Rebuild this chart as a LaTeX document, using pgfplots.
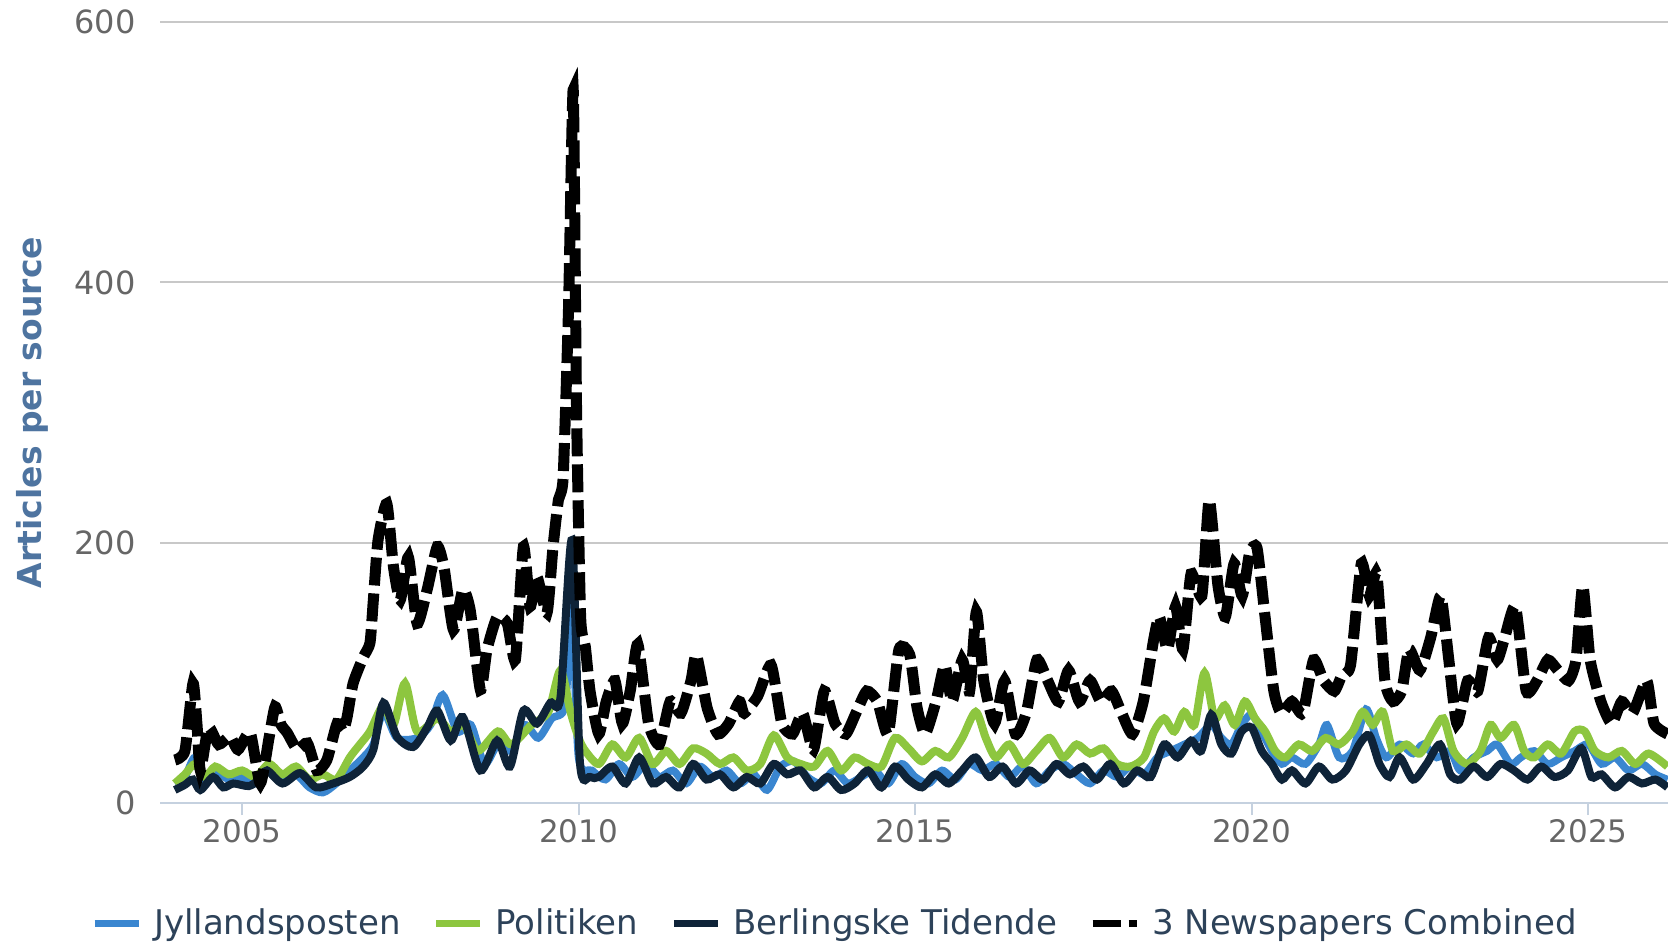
\documentclass[border=0pt]{standalone}
\usepackage{fontspec}
\setmainfont{DejaVu Sans}
\usepackage{pgfplots}
\usepackage{pgfplotstable}
\pgfplotsset{compat=1.18}

\definecolor{jp}{HTML}{3A86D0}
\definecolor{pol}{HTML}{8DC63F}
\definecolor{ber}{HTML}{0E2338}
\definecolor{axisline}{HTML}{C5D1DF}
\definecolor{gridc}{HTML}{C8C8C8}
\definecolor{tickc}{HTML}{666666}
\definecolor{ylab}{HTML}{4E74A0}
\definecolor{legc}{HTML}{2D4259}

% combined (3 newspapers)
\pgfplotstableread{
x y
2004.00 33
2004.15 40
2004.27 92
2004.33 60
2004.38 25
2004.50 58
2004.65 45
2004.82 51
2004.94 41
2005.12 54
2005.27 15
2005.40 50
2005.49 74
2005.58 60
2005.67 54
2005.82 41
2005.97 46
2006.11 25
2006.26 33
2006.41 61
2006.50 55
2006.56 66
2006.65 92
2006.80 112
2006.90 123
2006.95 156
2007.02 202
2007.15 230
2007.25 181
2007.35 156
2007.47 189
2007.60 138
2007.75 164
2007.90 197
2008.00 181
2008.14 133
2008.28 164
2008.39 148
2008.54 87
2008.64 118
2008.79 143
2008.94 138
2009.06 110
2009.18 197
2009.28 151
2009.38 174
2009.53 146
2009.62 197
2009.70 233
2009.77 250
2009.85 380
2009.92 548
2009.97 300
2010.03 143
2010.10 120
2010.17 86
2010.30 53
2010.41 78
2010.54 94
2010.65 61
2010.77 87
2010.88 122
2011.04 61
2011.20 45
2011.36 78
2011.52 69
2011.67 94
2011.75 114
2011.91 73
2012.07 53
2012.23 61
2012.39 78
2012.46 69
2012.66 82
2012.86 106
2013.02 61
2013.18 53
2013.33 69
2013.49 41
2013.65 86
2013.81 61
2013.97 53
2014.12 69
2014.28 86
2014.44 78
2014.60 53
2014.76 118
2014.92 114
2015.03 73
2015.15 53
2015.31 78
2015.44 106
2015.55 78
2015.70 110
2015.81 86
2015.91 147
2016.02 94
2016.18 61
2016.33 94
2016.49 53
2016.65 69
2016.81 110
2016.97 94
2017.13 78
2017.28 102
2017.44 78
2017.60 94
2017.76 78
2017.92 86
2018.07 69
2018.23 53
2018.39 78
2018.55 127
2018.63 143
2018.75 118
2018.87 151
2018.98 118
2019.10 176
2019.26 159
2019.37 233
2019.50 167
2019.61 143
2019.74 184
2019.86 159
2019.97 192
2020.08 196
2020.20 143
2020.33 86
2020.44 69
2020.60 78
2020.76 69
2020.92 110
2021.07 94
2021.23 86
2021.34 98
2021.47 106
2021.63 184
2021.75 159
2021.86 176
2021.98 94
2022.10 78
2022.23 86
2022.34 118
2022.50 102
2022.66 127
2022.81 159
2022.93 110
2023.05 61
2023.21 94
2023.36 86
2023.52 127
2023.65 110
2023.76 127
2023.92 151
2024.08 86
2024.24 94
2024.40 110
2024.55 102
2024.71 94
2024.82 110
2024.92 167
2025.03 110
2025.19 78
2025.35 61
2025.50 78
2025.66 69
2025.87 94
2025.98 61
2026.18 53
}\combined

% Berlingske Tidende
\pgfplotstableread{
x y
2004.00 10
2004.15 14
2004.27 18
2004.38 10
2004.57 20
2004.72 12
2004.87 15
2005.10 13
2005.25 18
2005.37 25
2005.60 15
2005.86 23
2006.10 12
2006.35 15
2006.60 20
2006.80 28
2006.95 41
2007.10 77
2007.30 51
2007.54 43
2007.75 58
2007.90 71
2008.10 48
2008.28 66
2008.54 25
2008.79 48
2008.98 28
2009.18 71
2009.38 61
2009.58 77
2009.73 81
2009.90 202
2010.02 31
2010.17 20
2010.30 20
2010.50 28
2010.70 15
2010.90 35
2011.10 15
2011.30 20
2011.50 12
2011.70 30
2011.90 18
2012.10 22
2012.30 12
2012.50 20
2012.70 15
2012.90 30
2013.10 22
2013.30 25
2013.50 12
2013.70 20
2013.90 10
2014.10 15
2014.30 25
2014.50 12
2014.70 28
2014.90 18
2015.10 12
2015.30 22
2015.50 15
2015.70 25
2015.90 35
2016.10 20
2016.30 28
2016.50 15
2016.70 25
2016.90 18
2017.10 30
2017.30 22
2017.50 28
2017.70 18
2017.90 30
2018.10 15
2018.30 25
2018.50 20
2018.70 45
2018.90 35
2019.10 48
2019.25 40
2019.40 68
2019.55 45
2019.70 38
2019.85 55
2020.00 58
2020.15 40
2020.30 30
2020.45 18
2020.60 25
2020.80 15
2021.00 28
2021.20 18
2021.40 25
2021.60 45
2021.75 52
2021.90 30
2022.05 20
2022.20 35
2022.40 18
2022.60 30
2022.80 45
2022.95 22
2023.10 18
2023.30 28
2023.50 20
2023.70 30
2023.90 25
2024.10 18
2024.30 28
2024.50 20
2024.70 25
2024.90 42
2025.05 20
2025.20 22
2025.40 12
2025.60 20
2025.80 15
2026.00 18
2026.18 12
}\berlingske

% Politiken
\pgfplotstableread{
x y
2004.00 15
2004.15 22
2004.30 30
2004.45 20
2004.60 28
2004.80 22
2005.00 25
2005.20 20
2005.40 30
2005.60 22
2005.80 28
2006.00 18
2006.20 22
2006.40 18
2006.60 35
2006.75 45
2006.90 55
2007.10 75
2007.25 60
2007.42 92
2007.60 55
2007.90 65
2008.10 55
2008.30 60
2008.50 40
2008.80 55
2009.00 45
2009.30 60
2009.55 70
2009.73 102
2009.88 70
2010.00 50
2010.10 40
2010.30 30
2010.50 45
2010.70 35
2010.90 50
2011.10 30
2011.30 40
2011.50 30
2011.70 42
2011.90 38
2012.10 30
2012.30 35
2012.50 25
2012.70 30
2012.90 52
2013.10 35
2013.30 30
2013.50 28
2013.70 40
2013.90 25
2014.10 35
2014.30 30
2014.50 28
2014.70 50
2014.90 42
2015.10 32
2015.30 40
2015.50 35
2015.70 50
2015.90 70
2016.05 50
2016.20 35
2016.40 45
2016.60 30
2016.80 40
2017.00 50
2017.20 35
2017.40 45
2017.60 38
2017.80 42
2018.00 30
2018.20 28
2018.40 35
2018.55 55
2018.70 65
2018.85 55
2019.00 70
2019.15 60
2019.30 100
2019.45 65
2019.60 75
2019.75 60
2019.90 78
2020.05 65
2020.20 55
2020.35 40
2020.50 35
2020.70 45
2020.90 40
2021.10 50
2021.30 45
2021.50 55
2021.65 70
2021.80 60
2021.95 70
2022.10 40
2022.30 45
2022.50 38
2022.70 55
2022.85 65
2023.00 40
2023.20 30
2023.40 40
2023.55 60
2023.70 50
2023.90 60
2024.05 40
2024.20 35
2024.40 45
2024.60 38
2024.80 55
2024.95 55
2025.10 40
2025.30 35
2025.50 40
2025.70 30
2025.90 38
2026.18 28
}\politiken

% Jyllandsposten
\pgfplotstableread{
x y
2004.00 15
2004.15 20
2004.30 35
2004.45 15
2004.60 25
2004.80 18
2005.00 20
2005.20 15
2005.40 25
2005.60 20
2005.80 22
2006.00 12
2006.20 8
2006.40 15
2006.60 25
2006.80 35
2006.95 45
2007.10 70
2007.30 50
2007.60 50
2007.80 60
2007.98 83
2008.20 55
2008.40 60
2008.60 30
2008.80 45
2009.00 40
2009.20 60
2009.40 50
2009.60 65
2009.80 75
2009.90 150
2010.00 35
2010.20 25
2010.40 18
2010.60 30
2010.80 20
2011.00 30
2011.20 20
2011.40 25
2011.60 15
2011.80 28
2012.00 20
2012.20 25
2012.40 15
2012.60 22
2012.80 10
2013.00 28
2013.20 32
2013.40 20
2013.60 15
2013.80 25
2014.00 15
2014.20 20
2014.40 25
2014.60 15
2014.80 30
2015.00 20
2015.20 15
2015.40 25
2015.60 18
2015.80 30
2016.00 25
2016.20 30
2016.40 20
2016.60 28
2016.80 15
2017.00 25
2017.20 30
2017.40 22
2017.60 15
2017.80 25
2018.00 20
2018.20 28
2018.40 22
2018.60 35
2018.80 40
2019.00 45
2019.20 50
2019.40 60
2019.55 50
2019.70 45
2019.85 60
2020.00 68
2020.15 55
2020.30 40
2020.45 30
2020.60 35
2020.80 30
2021.00 45
2021.12 60
2021.30 35
2021.50 40
2021.70 72
2021.85 50
2022.00 35
2022.20 45
2022.40 38
2022.55 45
2022.75 35
2022.95 40
2023.10 25
2023.30 35
2023.50 40
2023.65 45
2023.85 30
2024.00 35
2024.20 40
2024.40 30
2024.60 35
2024.80 40
2025.00 45
2025.20 30
2025.40 35
2025.60 25
2025.80 30
2026.00 22
2026.18 18
}\jyllands

\begin{document}
\begin{tikzpicture}
\begin{axis}[
  at={(80pt,72pt)}, anchor=south west,
  x=33.65pt, y=0.65075pt,
  xmin=2003.78, xmax=2026.5, ymin=0, ymax=600,
  clip=false,
  axis lines*=left,
  x axis line style={axisline, line width=1.2pt},
  y axis line style={draw=none},
  xtick={2005,2010,2015,2020,2025},
  xticklabels={2005,2010,2015,2020,2025},
  ytick={0,200,400,600},
  yticklabels={0,200,400,600},
  tick align=outside,
  major tick length=6pt,
  x tick style={axisline, line width=1pt},
  y tick style={draw=none},
  ymajorgrids,
  grid style={gridc, line width=1pt},
  xticklabel style={font=\fontsize{15.5}{18}\selectfont, text=tickc, anchor=north, inner sep=0pt, yshift=-2pt},
  yticklabel style={font=\fontsize{16}{18}\selectfont, text=tickc, anchor=east, inner sep=0pt, xshift=-6pt},
  ylabel={Articles per source},
  ylabel style={at={(axis description cs:-0.0837,0.5)}, anchor=center,
    font=\fontsize{16.5}{19}\bfseries, text=ylab},
  legend columns=4,
  legend style={at={(axis description cs:0.442,-0.1537)}, anchor=center, draw=none, fill=none,
    font=\fontsize{17}{20}\selectfont, text=legc,
    /tikz/every odd column/.append style={column sep=4pt},
    /tikz/every even column/.append style={column sep=14pt}},
  legend image code/.code={\draw[#1, line width=3.5pt] (0pt,0pt) -- (22pt,0pt);},
]
\addplot[jp, line width=3.8pt, smooth, tension=0.45] table[x=x,y=y] {\jyllands};
\addlegendentry{Jyllandsposten}
\addplot[pol, line width=4pt, smooth, tension=0.45] table[x=x,y=y] {\politiken};
\addlegendentry{Politiken}
\addplot[ber, line width=4pt, smooth, tension=0.45] table[x=x,y=y] {\berlingske};
\addlegendentry{Berlingske Tidende}
\addplot[black, line width=5.5pt, dash pattern=on 14pt off 4pt, smooth, tension=0.35] table[x=x,y=y] {\combined};
\addlegendentry{3 Newspapers Combined}
\end{axis}
\pgfresetboundingbox
\path[use as bounding box] (0,0) rectangle (834pt,473.5pt);
\end{tikzpicture}
\end{document}
